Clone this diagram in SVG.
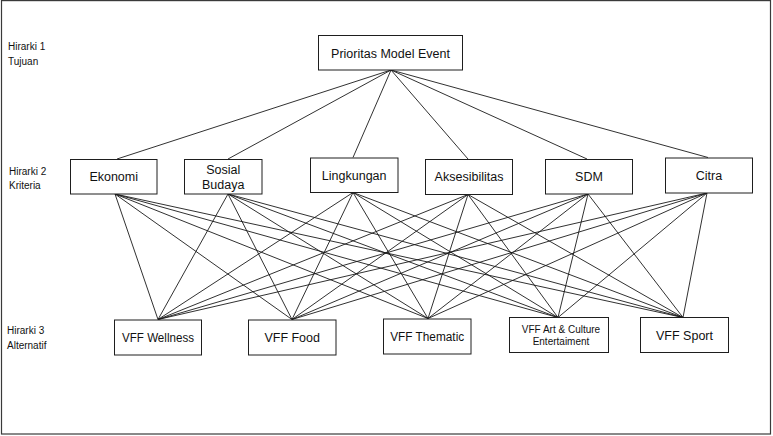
<svg xmlns="http://www.w3.org/2000/svg" width="773" height="436" viewBox="0 0 773 436">
  <style>
    .frame { fill: #ffffff; stroke: #3a3a3a; stroke-width: 1.2; }
    .box { fill: #ffffff; stroke: #1e1e1e; stroke-width: 1; }
    .lbl { font-family: "Liberation Sans", Arial, sans-serif; font-size: 12.5px; fill: #111; text-anchor: middle; }
    .sm { font-size: 10px; }
    .lvl { font-family: "Liberation Sans", Arial, sans-serif; font-size: 10px; fill: #111; }
    .links line { stroke: #1a1a1a; stroke-width: 0.9; }
  </style>

  <rect class="frame" x="1.5" y="0.6" width="769" height="433.4"/>

  <!-- level captions -->
  <g id="level-captions">
    <text class="lvl" x="8" y="50">Hirarki 1</text>
    <text class="lvl" x="8" y="64.5">Tujuan</text>
    <text class="lvl" x="9" y="174.5">Hirarki 2</text>
    <text class="lvl" x="9" y="189">Kriteria</text>
    <text class="lvl" x="7" y="333.5">Hirarki 3</text>
    <text class="lvl" x="7" y="348.5">Alternatif</text>
  </g>

  <!-- connectors -->
  <g id="connectors" class="links">
    <!-- goal to criteria -->
    <line x1="391" y1="70" x2="117" y2="159"/>
    <line x1="391" y1="70" x2="228" y2="159"/>
    <line x1="391" y1="70" x2="353" y2="157.5"/>
    <line x1="391" y1="70" x2="468" y2="159"/>
    <line x1="391" y1="70" x2="587" y2="159"/>
    <line x1="391" y1="70" x2="708" y2="157.5"/>
    <!-- Ekonomi to alternatives -->
    <line x1="115" y1="194" x2="158" y2="319.5"/>
    <line x1="115" y1="194" x2="292" y2="319.5"/>
    <line x1="115" y1="194" x2="428" y2="318.5"/>
    <line x1="115" y1="194" x2="558" y2="317.5"/>
    <line x1="115" y1="194" x2="683" y2="317.5"/>
    <!-- Sosial Budaya to alternatives -->
    <line x1="228" y1="194" x2="158" y2="319.5"/>
    <line x1="228" y1="194" x2="292" y2="319.5"/>
    <line x1="228" y1="194" x2="428" y2="318.5"/>
    <line x1="228" y1="194" x2="558" y2="317.5"/>
    <line x1="228" y1="194" x2="683" y2="317.5"/>
    <!-- Lingkungan to alternatives -->
    <line x1="353" y1="192.5" x2="158" y2="319.5"/>
    <line x1="353" y1="192.5" x2="292" y2="319.5"/>
    <line x1="353" y1="192.5" x2="428" y2="318.5"/>
    <line x1="353" y1="192.5" x2="558" y2="317.5"/>
    <line x1="353" y1="192.5" x2="683" y2="317.5"/>
    <!-- Aksesibilitas to alternatives -->
    <line x1="468" y1="194.5" x2="158" y2="319.5"/>
    <line x1="468" y1="194.5" x2="292" y2="319.5"/>
    <line x1="468" y1="194.5" x2="428" y2="318.5"/>
    <line x1="468" y1="194.5" x2="558" y2="317.5"/>
    <line x1="468" y1="194.5" x2="683" y2="317.5"/>
    <!-- SDM to alternatives -->
    <line x1="588" y1="194" x2="158" y2="319.5"/>
    <line x1="588" y1="194" x2="292" y2="319.5"/>
    <line x1="588" y1="194" x2="428" y2="318.5"/>
    <line x1="588" y1="194" x2="558" y2="317.5"/>
    <line x1="588" y1="194" x2="683" y2="317.5"/>
    <!-- Citra to alternatives -->
    <line x1="707" y1="193" x2="158" y2="319.5"/>
    <line x1="707" y1="193" x2="292" y2="319.5"/>
    <line x1="707" y1="193" x2="428" y2="318.5"/>
    <line x1="707" y1="193" x2="558" y2="317.5"/>
    <line x1="707" y1="193" x2="683" y2="317.5"/>
  </g>

  <!-- goal -->
  <g id="goal">
    <rect class="box" x="318.5" y="35.5" width="144" height="34.5"/>
    <text class="lbl" x="390.5" y="57.5">Prioritas Model Event</text>
  </g>

  <!-- criteria -->
  <g id="ekonomi">
    <rect class="box" x="70.5" y="159.5" width="86.5" height="34.5"/>
    <text class="lbl" x="113.7" y="181">Ekonomi</text>
  </g>
  <g id="sosial-budaya">
    <rect class="box" x="184.5" y="159.5" width="77.5" height="34.5"/>
    <text class="lbl" x="223.2" y="173.5">Sosial</text>
    <text class="lbl" x="223.2" y="188.5">Budaya</text>
  </g>
  <g id="lingkungan">
    <rect class="box" x="310.5" y="158" width="87.5" height="34.5"/>
    <text class="lbl" x="354.2" y="179.5">Lingkungan</text>
  </g>
  <g id="aksesibilitas">
    <rect class="box" x="425.5" y="159.5" width="87" height="35"/>
    <text class="lbl" x="469" y="181">Aksesibilitas</text>
  </g>
  <g id="sdm">
    <rect class="box" x="545.5" y="159.5" width="87" height="34.5"/>
    <text class="lbl" x="589" y="181">SDM</text>
  </g>
  <g id="citra">
    <rect class="box" x="665.5" y="158" width="87" height="35"/>
    <text class="lbl" x="709" y="179.5">Citra</text>
  </g>

  <!-- alternatives -->
  <g id="vff-wellness">
    <rect class="box" x="114.5" y="320" width="87" height="35"/>
    <text class="lbl" x="158" y="341.5" textLength="72" lengthAdjust="spacingAndGlyphs">VFF Wellness</text>
  </g>
  <g id="vff-food">
    <rect class="box" x="248.5" y="320" width="87.5" height="35"/>
    <text class="lbl" x="292.2" y="341.5">VFF Food</text>
  </g>
  <g id="vff-thematic">
    <rect class="box" x="383.5" y="319" width="87.5" height="35"/>
    <text class="lbl" x="427.2" y="340.5" textLength="74" lengthAdjust="spacingAndGlyphs">VFF Thematic</text>
  </g>
  <g id="vff-art-culture">
    <rect class="box" x="509.5" y="317.5" width="99" height="35"/>
    <text class="lbl sm" x="561" y="333">VFF Art &amp; Culture</text>
    <text class="lbl sm" x="561" y="345">Entertaiment</text>
  </g>
  <g id="vff-sport">
    <rect class="box" x="640.5" y="317.5" width="88" height="35"/>
    <text class="lbl" x="684.5" y="339.5">VFF Sport</text>
  </g>
</svg>
